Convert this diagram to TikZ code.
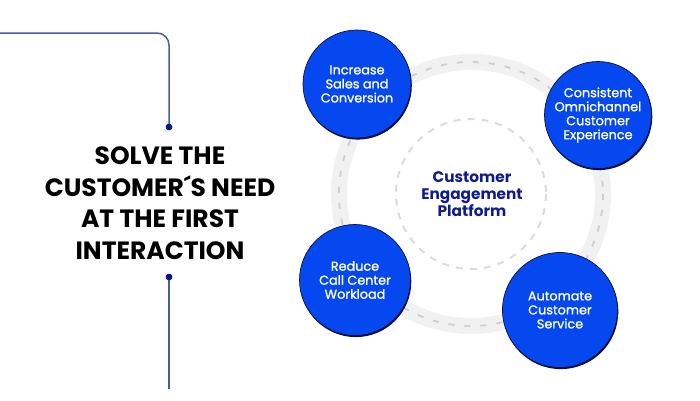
\documentclass[tikz,border=0pt]{standalone}
\usepackage{fontspec}
\setmainfont{Poppins}
\newfontfamily\circfont{Poppins}[FakeBold=1.3]
\usetikzlibrary{shadows}
\definecolor{bluec}{RGB}{6,72,240}
\definecolor{shadowc}{RGB}{12,16,60}
\definecolor{navy}{RGB}{16,28,140}
\definecolor{linec}{RGB}{72,92,160}
\definecolor{dotc}{RGB}{10,20,130}
\definecolor{roadc}{RGB}{241,241,242}
\definecolor{roaddash}{RGB}{205,205,212}
\definecolor{innerc}{RGB}{218,218,224}
\tikzset{
  bluecircle/.style={circle, fill=bluec, draw=shadowc, line width=0.7pt,
    minimum size=#1, inner sep=0pt, text=white, align=center,
    font=\circfont\fontsize{12.8}{14}\selectfont,
    general shadow={fill=shadowc, shadow xshift=0.8pt, shadow yshift=-1.6pt}},
  dotnode/.style={circle, fill=dotc, inner sep=0pt, minimum size=6.5pt},
  leftline/.style={draw=linec, line width=1.5pt},
}
\begin{document}
\begin{tikzpicture}[x=1pt,y=-1pt]
\useasboundingbox (0,0) rectangle (700,400);
% road ring
\draw[roadc, line width=16pt] (471,194) circle (132);
\draw[roaddash, line width=1.8pt, dash pattern=on 6pt off 10pt] (471,194) circle (132);
% inner dashed circle
\draw[innerc, line width=2pt, dash pattern=on 7pt off 7pt] (471,194) circle (75);
\node[text=navy, font=\bfseries\fontsize{15.3}{17.2}\selectfont, align=center] (center) at (472,194) {Customer\\Engagement\\Platform};
% blue circles
\node[bluecircle=108pt] (c1) at (357,84) {Increase\\Sales and\\Conversion};
\node[bluecircle=107pt] (c2) at (598,115) {Consistent\\Omnichannel\\Customer\\Experience};
\node[bluecircle=111pt] (c3) at (355,280) {Reduce\\Call Center\\Workload};
\node[bluecircle=115pt] (c4) at (560,310) {Automate\\Customer\\Service};
% left decoration
\coordinate (tl) at (0,33);
\node[dotnode] (d1) at (169,127) {};
\node[dotnode] (d2) at (169,277) {};
\coordinate (bl) at (169,389);
\draw[leftline, rounded corners=12pt] (tl) -- (169,33) -- (d1.center);
\draw[leftline] (d2.center) -- (bl);
\node[dotnode] at (d1) {};
\node[dotnode] at (d2) {};
% title
\node[font=\bfseries\fontsize{25}{31.5}\selectfont, align=center, text=black] (title) at (160,203) {SOLVE THE\\CUSTOMER´S NEED\\AT THE FIRST\\INTERACTION};
\end{tikzpicture}
\end{document}
